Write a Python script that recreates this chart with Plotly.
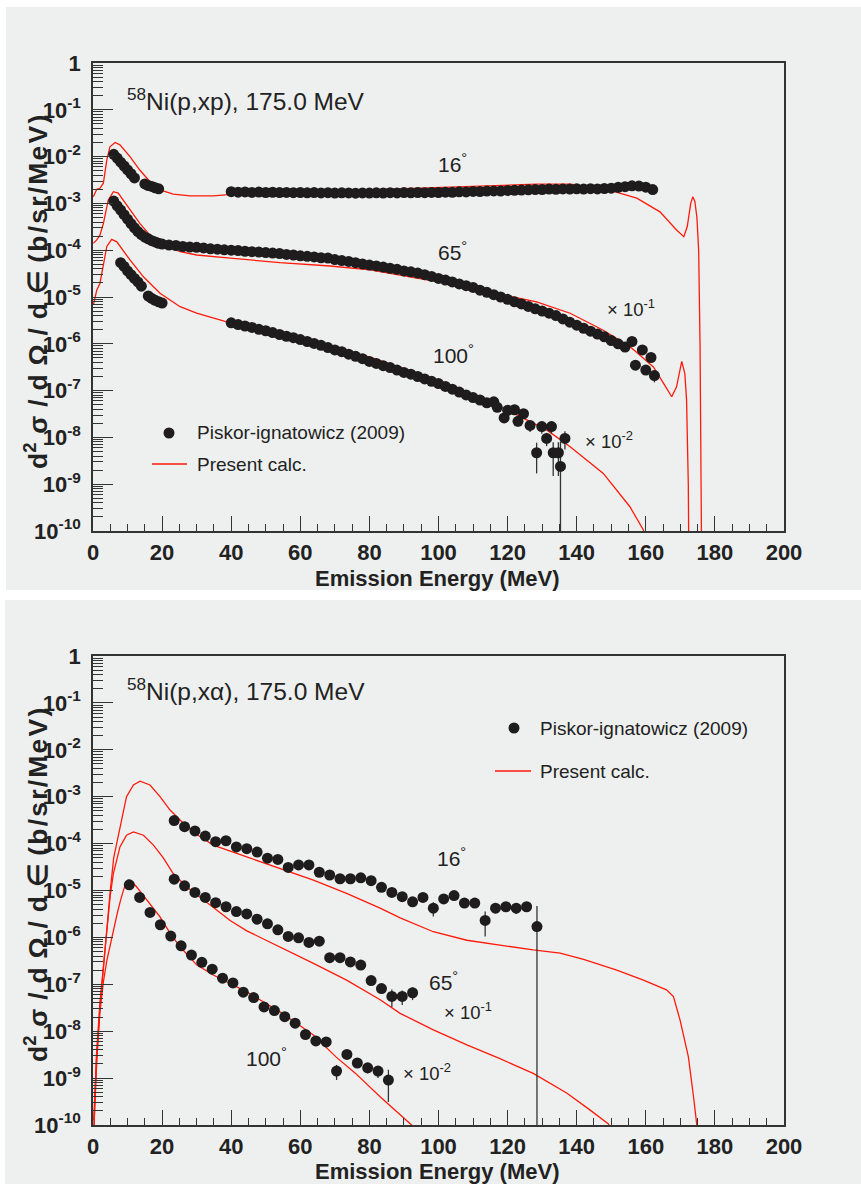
import plotly.graph_objects as go

W, H = 861, 1184
FONT = "Liberation Sans, Arial, sans-serif"
PANEL_BG = "#eef0ef"
DOT = "#1e1c1c"
RED = "#ff1a0a"

# ---------------- Top panel: 58Ni(p,xp) ----------------
p16_E = [6, 7, 8, 9, 10, 11, 12, 15, 16, 17, 18, 19,
         40, 42, 44, 46, 48, 50, 52, 54, 56, 58, 60, 62, 64, 66, 68, 70, 72, 74, 76, 78,
         80, 82, 84, 86, 88, 90, 92, 94, 96, 98, 100, 102, 104, 106, 108, 110, 112, 114,
         116, 118, 120, 122, 124, 126, 128, 130, 132, 134, 136, 138, 140, 142, 144, 146,
         148, 150, 152, 154, 156, 158, 160, 162]
p16_v = [1.12e-2, 9.3e-3, 7.6e-3, 6.3e-3, 5.2e-3, 4.3e-3, 3.5e-3, 2.6e-3, 2.4e-3, 2.3e-3, 2.15e-3, 2.05e-3,
         1.78e-3, 1.74e-3, 1.76e-3, 1.72e-3, 1.75e-3, 1.71e-3, 1.73e-3, 1.70e-3, 1.72e-3, 1.69e-3,
         1.71e-3, 1.68e-3, 1.70e-3, 1.67e-3, 1.69e-3, 1.66e-3, 1.68e-3, 1.67e-3, 1.65e-3, 1.67e-3,
         1.66e-3, 1.68e-3, 1.66e-3, 1.69e-3, 1.67e-3, 1.70e-3, 1.68e-3, 1.71e-3, 1.69e-3, 1.72e-3,
         1.71e-3, 1.74e-3, 1.73e-3, 1.77e-3, 1.76e-3, 1.80e-3, 1.79e-3, 1.83e-3, 1.85e-3, 1.84e-3,
         1.89e-3, 1.91e-3, 1.93e-3, 1.95e-3, 1.98e-3, 1.97e-3, 2.02e-3, 2.00e-3, 2.04e-3, 2.03e-3,
         2.05e-3, 2.02e-3, 2.06e-3, 2.04e-3, 2.08e-3, 2.12e-3, 2.20e-3, 2.28e-3, 2.38e-3, 2.35e-3,
         2.22e-3, 1.98e-3]

p65_E = [6, 7, 8, 9, 10, 11, 12, 13, 14, 15, 16, 17, 18, 19, 20,
         22, 24, 26, 28, 30, 32, 34, 36, 38, 40, 42, 44, 46, 48, 50, 52, 54, 56, 58, 60,
         62, 64, 66, 68, 70, 72, 74, 76, 78, 80, 82, 84, 86, 88, 90, 92, 94, 96, 98, 100,
         102, 104, 106, 108, 110, 112, 114, 116, 118, 120, 122, 124, 126, 128, 130, 132,
         134, 136, 138, 140, 142, 144, 146, 148, 150, 152, 154, 156, 157, 159, 160, 161.5, 162.5]
p65_v = [1.12e-3, 8.9e-4, 7.2e-4, 5.75e-4, 4.6e-4, 3.7e-4, 3.0e-4, 2.5e-4, 2.15e-4, 1.9e-4,
         1.75e-4, 1.6e-4, 1.5e-4, 1.4e-4, 1.35e-4,
         1.29e-4, 1.26e-4, 1.20e-4, 1.17e-4, 1.15e-4, 1.12e-4, 1.07e-4, 1.05e-4, 1.02e-4, 1.00e-4,
         9.8e-5, 9.5e-5, 9.3e-5, 9.1e-5, 8.9e-5, 8.7e-5, 8.5e-5, 8.1e-5, 7.9e-5, 7.6e-5,
         7.4e-5, 7.2e-5, 6.9e-5, 6.8e-5, 6.3e-5, 6.0e-5, 5.75e-5, 5.4e-5, 5.1e-5, 4.8e-5,
         4.6e-5, 4.35e-5, 4.1e-5, 3.9e-5, 3.6e-5, 3.45e-5, 3.25e-5, 3.0e-5, 2.75e-5, 2.5e-5,
         2.3e-5, 2.1e-5, 1.9e-5, 1.75e-5, 1.6e-5, 1.4e-5, 1.26e-5, 1.12e-5, 1.0e-5, 8.9e-6,
         7.9e-6, 7.1e-6, 6.3e-6, 5.6e-6, 5.0e-6, 4.5e-6, 4.0e-6, 3.4e-6, 2.9e-6, 2.5e-6,
         2.15e-6, 1.86e-6, 1.62e-6, 1.41e-6, 1.17e-6, 1.0e-6, 8.5e-7, 1.12e-6, 3.5e-7, 7.4e-7,
         2.75e-7, 5.1e-7, 2.1e-7]
p65_err = [0.0] * 80 + [1.5e-7, 1.0e-7, 1.2e-7, 0.6e-7, 1.0e-7, 0.5e-7, 0.8e-7, 0.6e-7]

p100_E = [8, 9, 10, 11, 12, 13, 14, 16, 17, 18, 19, 20,
          40, 42, 44, 46, 48, 50, 52, 54, 56, 58, 60, 62, 64, 66, 68, 70, 72, 74, 76, 78,
          80, 82, 84, 86, 88, 90, 92, 94, 96, 98, 100, 102, 104, 106, 108, 110, 112, 114,
          116, 117, 119, 120, 122, 123, 124.6, 126.5, 128.4, 129.9, 131.3, 132.7, 133.2,
          134.7, 135.3, 136.6]
p100_v = [5.4e-5, 4.5e-5, 3.6e-5, 3.0e-5, 2.5e-5, 2.1e-5, 1.7e-5, 1.05e-5, 9.3e-6, 8.5e-6, 7.9e-6, 7.4e-6,
          2.8e-6, 2.57e-6, 2.4e-6, 2.24e-6, 2.04e-6, 1.9e-6, 1.74e-6, 1.58e-6, 1.45e-6, 1.35e-6,
          1.23e-6, 1.12e-6, 1.02e-6, 9.3e-7, 8.3e-7, 7.4e-7, 6.8e-7, 6.0e-7, 5.4e-7, 4.8e-7,
          4.2e-7, 3.8e-7, 3.4e-7, 3.1e-7, 2.75e-7, 2.45e-7, 2.24e-7, 2.0e-7, 1.78e-7, 1.58e-7,
          1.41e-7, 1.23e-7, 1.07e-7, 9.3e-8, 8.1e-8, 7.1e-8, 6.3e-8, 5.5e-8,
          5.75e-8, 4.4e-8, 2.6e-8, 3.8e-8, 3.9e-8, 2.2e-8, 3.2e-8, 1.8e-8, 4.7e-9, 1.7e-8,
          9.5e-9, 1.7e-8, 4.7e-9, 4.7e-9, 2.4e-9, 9.5e-9]
p100_err = [0.0] * 50 + [0.6e-8, 0.5e-8, 0.4e-8, 0.5e-8, 0.5e-8, 0.5e-8, 0.5e-8, 0.5e-8,
                         3.0e-9, 0.5e-8, 0.3e-8, 0.5e-8, 3.2e-9, 3.2e-9, 5.7e-9, 4.0e-9]

c16_E = [0.1, 1.1, 2.0, 3.0, 4.0, 4.9, 6.4, 7.8, 10.7, 13.6, 16.5, 19.4, 23.2, 28.1, 34.8,
         44.5, 63.8, 83.1, 109.1, 128.4, 138.1, 147.7, 157.4, 164.1, 168.9, 171.0, 172.0,
         173.0, 173.6, 174.2, 174.8, 175.3, 175.7, 176.0, 176.3]
c16_v = [1.38e-3, 2.0e-3, 2.1e-3, 2.7e-3, 8.5e-3, 1.62e-2, 2.0e-2, 1.78e-2, 1.0e-2, 5.1e-3,
         2.9e-3, 1.95e-3, 1.58e-3, 1.45e-3, 1.45e-3, 1.66e-3, 1.78e-3, 2.0e-3, 2.34e-3, 2.57e-3,
         2.57e-3, 2.09e-3, 1.29e-3, 6.6e-4, 2.7e-4, 1.95e-4, 3.2e-4, 1.0e-3, 1.38e-3, 1.1e-3,
         5.0e-4, 1.0e-4, 1.0e-6, 1.0e-10, 1.0e-12]

c65_E = [0.1, 1.1, 2.0, 3.0, 4.4, 5.9, 7.3, 10.7, 13.6, 16.5, 20.4, 25.2, 30.0, 39.7, 54.1,
         68.6, 80.2, 99.5, 118.8, 128.4, 138.1, 147.7, 155.4, 162.2, 165.1, 167.5, 168.9,
         170.4, 171.3, 171.8, 172.3, 172.6]
c65_v = [1.41e-4, 1.66e-4, 2.1e-4, 3.7e-4, 1.17e-3, 1.78e-3, 1.66e-3, 7.2e-4, 3.7e-4, 2.1e-4,
         1.29e-4, 9.3e-5, 7.9e-5, 6.8e-5, 5.4e-5, 4.6e-5, 3.8e-5, 2.14e-5, 1.1e-5, 7.9e-6,
         4.5e-6, 1.95e-6, 8.7e-7, 3.2e-7, 1.45e-7, 7.4e-8, 1.2e-7, 4.2e-7, 2.3e-7, 6.3e-8,
         1.0e-9, 1.0e-12]

c100_E = [0.1, 1.1, 2.0, 3.0, 4.0, 5.4, 6.9, 10.7, 14.6, 19.4, 25.2, 30.0, 39.7, 54.1, 63.8,
          73.4, 80.2, 99.5, 118.8, 131.3, 138.1, 147.7, 155.4, 159.3, 161.0]
c100_v = [6.8e-6, 1.41e-5, 1.95e-5, 5.2e-5, 1.2e-4, 1.7e-4, 1.51e-4, 6.2e-5, 2.7e-5, 1.2e-5,
          6.2e-6, 4.5e-6, 2.8e-6, 1.58e-6, 1.02e-6, 7.1e-7, 5.2e-7, 1.7e-7, 4.2e-8, 1.45e-8,
          6.3e-9, 1.7e-9, 3.3e-10, 1.05e-10, 3.2e-11]

# ---------------- Bottom panel: 58Ni(p,xalpha) ----------------
a16_E = [23.5, 26.5, 29.5, 32.5, 35.5, 38.5, 41.5, 44.5, 47.5, 50.5, 53.5, 56.5, 59.5, 62.5,
         65.5, 68.5, 71.5, 74.5, 77.5, 80.5, 83.5, 86.5, 89.5, 92.5, 95.5, 98.5, 101.5, 104.5,
         107.5, 110.5, 113.5, 116.5, 119.5, 122.5, 125.5, 128.5]
a16_v = [3.09e-4, 2.29e-4, 1.86e-4, 1.45e-4, 1.10e-4, 1.15e-4, 8.5e-5, 7.8e-5, 6.6e-5, 4.9e-5,
         4.6e-5, 3.1e-5, 3.5e-5, 3.5e-5, 2.45e-5, 2.14e-5, 1.78e-5, 1.78e-5, 1.86e-5, 1.62e-5,
         1.17e-5, 9.1e-6, 7.4e-6, 5.75e-6, 7.1e-6, 4.2e-6, 6.6e-6, 7.8e-6, 5.4e-6, 5.4e-6,
         2.3e-6, 4.2e-6, 4.5e-6, 4.2e-6, 4.5e-6, 1.7e-6]
a16_err = [0.0] * 19 + [1.0e-6, 1.2e-6, 1.1e-6, 0.9e-6, 0.6e-6, 0.7e-6, 1.4e-6, 0.8e-6, 0.8e-6,
                        1.1e-6, 1.0e-6, 1.26e-6, 0.9e-6, 0.9e-6, 1.05e-6, 0.9e-6, 3.0e-6]

a65_E = [23.5, 26.5, 29.5, 32.5, 35.5, 38.5, 41.5, 44.5, 47.5, 50.5, 53.5, 56.5, 59.5, 62.5,
         65.5, 68.5, 71.5, 74.5, 77.5, 80.5, 83.5, 86.5, 89.5, 92.5]
a65_v = [1.74e-5, 1.26e-5, 9.1e-6, 7.1e-6, 5.5e-6, 4.5e-6, 3.55e-6, 3.16e-6, 2.45e-6, 1.95e-6,
         1.45e-6, 1.05e-6, 9.8e-7, 7.8e-7, 8.3e-7, 3.7e-7, 3.7e-7, 3.0e-7, 2.57e-7, 1.2e-7,
         8.1e-8, 5.5e-8, 5.5e-8, 6.6e-8]
a65_err = [0.0] * 19 + [1.8e-8, 1.6e-8, 2.2e-8, 1.9e-8, 2.0e-8]

a100_E = [10.5, 13.5, 16.5, 19.5, 22.5, 25.5, 28.5, 31.5, 34.5, 37.5, 40.5, 43.5, 46.5, 49.5,
          52.5, 55.5, 58.5, 61.5, 64.5, 67.5, 70.5, 73.5, 76.5, 79.5, 82.5, 85.5]
a100_v = [1.32e-5, 7.1e-6, 3.4e-6, 1.86e-6, 1.07e-6, 6.6e-7, 4.2e-7, 2.95e-7, 2.1e-7, 1.35e-7,
          1.07e-7, 6.8e-8, 5.2e-8, 3.3e-8, 2.75e-8, 2.04e-8, 1.48e-8, 8.5e-9, 6.2e-9, 5.9e-9,
          1.41e-9, 3.2e-9, 2.1e-9, 1.66e-9, 1.41e-9, 9.1e-10]
a100_err = [0.0] * 20 + [5.0e-10, 0.4e-9, 0.45e-9, 0.4e-9, 0.4e-9, 6.0e-10]

ca16_E = [0.3, 1.0, 2.0, 3.0, 3.8, 5.0, 6.0, 7.8, 9.7, 11.7, 13.6, 16.5, 19.4, 22.3, 25.2,
          29.5, 34.8, 44.5, 54.1, 63.8, 73.4, 83.1, 88.9, 98.5, 108.2, 117.8, 127.4, 135.2,
          142.0, 151.6, 159.3, 166.0, 168.0, 169.9, 172.3, 173.8, 174.7, 175.2]
ca16_v = [1.0e-10, 1.6e-9, 3.2e-8, 2.5e-7, 8.7e-7, 1.0e-5, 5.0e-5, 2.3e-4, 1.0e-3, 1.78e-3,
          2.14e-3, 1.78e-3, 1.0e-3, 5.2e-4, 3.2e-4, 1.66e-4, 9.3e-5, 5.2e-5, 2.95e-5, 1.66e-5,
          8.7e-6, 4.2e-6, 2.6e-6, 1.32e-6, 8.7e-7, 6.8e-7, 5.4e-7, 4.6e-7, 3.4e-7, 2.0e-7,
          1.23e-7, 7.6e-8, 5.5e-8, 1.74e-8, 2.9e-9, 4.1e-10, 1.1e-10, 3.2e-11]

ca65_E = [0.3, 1.0, 2.0, 3.0, 4.0, 5.0, 5.9, 7.8, 9.7, 11.7, 14.6, 17.5, 20.4, 23.2, 27.1,
          32.9, 39.7, 44.5, 54.1, 63.8, 73.4, 83.1, 88.9, 98.5, 108.2, 117.8, 127.4, 137.1,
          143.8, 149.1, 151.0]
ca65_v = [1.0e-10, 3.2e-9, 4.0e-8, 2.5e-7, 1.6e-6, 7.9e-6, 2.3e-5, 8.5e-5, 1.51e-4, 1.78e-4,
          1.51e-4, 9.3e-5, 4.9e-5, 2.3e-5, 1.2e-5, 5.6e-6, 2.3e-6, 1.38e-6, 6.3e-7, 2.8e-7,
          1.23e-7, 4.7e-8, 2.4e-8, 1.07e-8, 5.1e-9, 2.6e-9, 1.26e-9, 4.8e-10, 2.1e-10,
          1.07e-10, 6.3e-11]

ca100_E = [0.2, 1.0, 2.0, 3.0, 4.0, 5.0, 6.0, 7.0, 8.0, 9.0, 10.2, 11.0, 12.6, 15.5, 19.4,
           22.3, 25.2, 30.0, 34.8, 44.5, 54.1, 63.8, 70.4, 76.0, 83.1, 92.2, 94.0]
ca100_v = [1.26e-10, 2.5e-9, 2.5e-8, 1.12e-7, 3.2e-7, 7.1e-7, 1.41e-6, 3.2e-6, 6.3e-6, 1.12e-5,
           1.66e-5, 1.58e-5, 1.2e-5, 6.3e-6, 2.75e-6, 1.23e-6, 6.3e-7, 2.6e-7, 1.58e-7, 6.9e-8,
           2.6e-8, 8.3e-9, 2.8e-9, 1.26e-9, 4.0e-10, 1.0e-10, 6.3e-11]

# ---------------- axis labels ----------------
x_ticks = list(range(0, 201, 20))
y_tick_vals = [10.0 ** (-k) for k in range(0, 11)]
y_tick_text = ["1"] + ["10<sup>-%d</sup>" % k for k in range(1, 11)]
y_minor_vals = [m * 10.0 ** (-k) for k in range(1, 11) for m in range(2, 10)]


def px(x):
    return x / W


def py(y):
    return 1 - y / H


fig = go.Figure()


def add_data(E, v, err, xa, ya):
    ed = dict(type="data", array=err, symmetric=True, width=0, thickness=1.3, color="#333333",
              visible=True) if err is not None else None
    fig.add_trace(go.Scatter(x=E, y=v, mode="markers", xaxis=xa, yaxis=ya,
                             marker=dict(color=DOT, size=11, line=dict(width=0)),
                             error_y=ed, showlegend=False))


def add_calc(E, v, xa, ya):
    fig.add_trace(go.Scatter(x=E, y=v, mode="lines", xaxis=xa, yaxis=ya,
                             line=dict(color=RED, width=1.3), showlegend=False))


add_calc(c16_E, c16_v, "x", "y")
add_calc(c65_E, c65_v, "x", "y")
add_calc(c100_E, c100_v, "x", "y")
add_data(p16_E, p16_v, None, "x", "y")
add_data(p65_E, p65_v, p65_err, "x", "y")
add_data(p100_E, p100_v, p100_err, "x", "y")

add_calc(ca16_E, ca16_v, "x2", "y2")
add_calc(ca65_E, ca65_v, "x2", "y2")
add_calc(ca100_E, ca100_v, "x2", "y2")
add_data(a16_E, a16_v, a16_err, "x2", "y2")
add_data(a65_E, a65_v, a65_err, "x2", "y2")
add_data(a100_E, a100_v, a100_err, "x2", "y2")

AX_COLOR = "#333333"
tickfont = dict(family=FONT, size=22, color="#222222", weight="bold")


def xaxis_cfg(anchor):
    return dict(domain=[px(93), px(784)], range=[0, 200], anchor=anchor, automargin=False,
                tickmode="array", tickvals=x_ticks, ticks="inside", ticklen=15,
                tickwidth=1, tickcolor=AX_COLOR, showline=True, mirror=True,
                linecolor=AX_COLOR, linewidth=1.5, showgrid=False, zeroline=False,
                tickfont=tickfont, ticklabelstandoff=1,
                minor=dict(dtick=5, tick0=0, ticks="inside", ticklen=7, tickwidth=1,
                           tickcolor=AX_COLOR, showgrid=False))


def yaxis_cfg(anchor, dom):
    return dict(domain=dom, type="log", range=[-10, 0], anchor=anchor, automargin=False,
                tickmode="array", tickvals=y_tick_vals, ticktext=y_tick_text,
                ticks="inside", ticklen=20, tickwidth=1, tickcolor=AX_COLOR,
                showline=True, mirror=True, linecolor=AX_COLOR, linewidth=1.5,
                showgrid=False, zeroline=False, tickfont=tickfont, ticklabelstandoff=6,
                minor=dict(tickmode="array", tickvals=y_minor_vals, ticks="inside",
                           ticklen=10, tickwidth=1, tickcolor=AX_COLOR, showgrid=False))


top_dom = [py(531), py(63)]
bot_dom = [py(1125), py(656)]

fig.update_layout(
    width=W, height=H, margin=dict(l=0, r=0, t=0, b=0, autoexpand=False),
    paper_bgcolor="white", plot_bgcolor=PANEL_BG, showlegend=False,
    font=dict(family=FONT, color="#222222"),
    xaxis=xaxis_cfg("y"), yaxis=yaxis_cfg("x", top_dom),
    xaxis2=xaxis_cfg("y2"), yaxis2=yaxis_cfg("x2", bot_dom),
)

shapes = [
    dict(type="rect", xref="paper", yref="paper", x0=px(6), x1=px(861), y0=py(590), y1=py(7),
         fillcolor=PANEL_BG, line=dict(width=0), layer="below"),
    dict(type="rect", xref="paper", yref="paper", x0=px(5), x1=px(861), y0=py(1184), y1=py(600),
         fillcolor=PANEL_BG, line=dict(width=0), layer="below"),
]

annots = []


def text(x, y, s, size, xanchor="left", bold=False, angle=0, yanchor="middle"):
    annots.append(dict(x=px(x), y=py(y), xref="paper", yref="paper", text=s, showarrow=False,
                       xanchor=xanchor, yanchor=yanchor, textangle=angle,
                       font=dict(family=FONT, size=size, color="#222222",
                                 weight="bold" if bold else "normal")))


def legend(dot_x, dot_y, line_x0, line_x1, line_y, text_x):
    r = 5.5
    shapes.append(dict(type="circle", xref="paper", yref="paper",
                       x0=px(dot_x - r), x1=px(dot_x + r), y0=py(dot_y + r), y1=py(dot_y - r),
                       fillcolor=DOT, line=dict(width=0), layer="above"))
    shapes.append(dict(type="line", xref="paper", yref="paper",
                       x0=px(line_x0), x1=px(line_x1), y0=py(line_y), y1=py(line_y),
                       line=dict(color=RED, width=1.3), layer="above"))
    text(text_x, dot_y, "Piskor-ignatowicz (2009)", 19)
    text(text_x, line_y, "Present calc.", 19)


# y-axis title, spaced out like the original lettering
S3 = "\u2004"   # three-per-em space
HS = "\u200a"   # hair space
ytitle = S3.join(["d<sup>2</sup>", "σ", "/", "d", "Ω", "/", "d", "∈"]) + " " + \
    HS.join(list("(b/sr/MeV)"))

for off, title in [(0, "<sup>58</sup>Ni(p,xp), 175.0 MeV"), (593, "<sup>58</sup>Ni(p,xα), 175.0 MeV")]:
    text(125, 99 + off - (3 if off else 0), title, 24.5)
    text(36, 292 + off, ytitle, 26.5, xanchor="center", bold=True, angle=-90)
    text(437, 578 + off, "Emission Energy (MeV)", 22, xanchor="center", bold=True)

# top panel labels
text(436, 163, "16<sup>°</sup>", 21)
text(436, 251, "65<sup>°</sup>", 21)
text(431, 354, "100<sup>°</sup>", 21)
text(605, 308, "× 10<sup>-1</sup>", 18.5)
text(583, 440, "× 10<sup>-2</sup>", 18.5)
legend(169, 433, 152, 187, 464, 195)

# bottom panel labels
text(435, 857, "16<sup>°</sup>", 21)
text(427, 981, "65<sup>°</sup>", 21)
text(442, 1011, "× 10<sup>-1</sup>", 18.5)
text(401, 1072, "× 10<sup>-2</sup>", 18.5)
text(244, 1057, "100<sup>°</sup>", 21)
legend(514, 728, 495, 531, 771, 538)

fig.update_layout(shapes=shapes, annotations=annots)
fig.write_html("out.html")
